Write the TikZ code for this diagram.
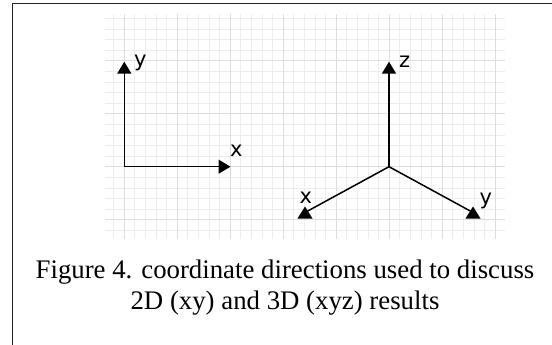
\documentclass[tikz,border=0pt]{standalone}
\usepackage{fontspec}
\setmainfont{Liberation Serif}
\newfontfamily\lblfont{DejaVu Sans}
\usetikzlibrary{arrows.meta}
\definecolor{gridminor}{HTML}{EDEDED}
\definecolor{gridmajor}{HTML}{DEDEDE}
\tikzset{
  axis/.style={line width=1.5pt, black, -{Triangle[length=12pt,width=14pt]}},
  axisplain/.style={line width=1.5pt, black},
  tri/.style={fill=black, draw=none},
  lbl/.style={font=\lblfont\fontsize{21}{21}\selectfont, inner sep=0pt},
  captxt/.style={font=\fontsize{26.8}{31}\selectfont, inner sep=0pt, anchor=base},
  frameline/.style={line width=1.6pt, black!85}
}
\begin{document}
\begin{tikzpicture}[x=1pt,y=-1pt]
\useasboundingbox (0,0) rectangle (552,345);
% grid
\begin{scope}
\clip (105,14) rectangle (505,239);
\foreach \i in {-3,...,36} {
  \draw[gridminor, line width=0.6pt] ({124+\i*10.6},14) -- ({124+\i*10.6},239);
}
\foreach \j in {-15,...,8} {
  \draw[gridminor, line width=0.6pt] (105,{166.7+\j*10.6}) -- (505,{166.7+\j*10.6});
}
\foreach \i in {-1,...,8} {
  \draw[gridmajor, line width=0.8pt] ({124+\i*53},14) -- ({124+\i*53},239);
}
\foreach \j in {-3,...,2} {
  \draw[gridmajor, line width=0.8pt] (105,{166.7+\j*53}) -- (505,{166.7+\j*53});
}
\end{scope}
% frame
\draw[frameline] (12.5,345) -- (12.5,3.6) -- (552,3.6);
% 2D axes
\coordinate (o2) at (124.3,166.7);
\coordinate (y2) at (124.3,61.7);
\coordinate (x2) at (230.5,166.7);
\draw[axis] (o2) -- (y2);
\draw[axis] (o2) -- (x2);
\node[lbl, anchor=south west] (ly2) at (134,71) {y};
\node[lbl, anchor=south west] (lx2) at (230,156.5) {x};
% 3D axes
\coordinate (o3) at (389,166.7);
\coordinate (z3) at (389,61.7);
\coordinate (x3) at (305,212.5);
\coordinate (y3) at (473,212.5);
\draw[axis] (o3) -- (z3);
\draw[axisplain] (o3) -- (x3);
\draw[axisplain] (o3) -- (y3);
\fill[tri] (305,206.5) -- (312.5,218.5) -- (297.5,218.5) -- cycle;
\fill[tri] (473,206.5) -- (480.5,218.5) -- (465.5,218.5) -- cycle;
\node[lbl, anchor=south west] (lz3) at (399,67.5) {z};
\node[lbl, anchor=south west] (lx3) at (299.5,203.5) {x};
\node[lbl, anchor=south west] (ly3) at (479.5,209) {y};
% caption
\node[captxt] (cap1) at (285,278) {Figure 4. coordinate directions used to discuss};
\node[captxt] (cap2) at (285,309.5) {2D (xy) and 3D (xyz) results};
\end{tikzpicture}
\end{document}
